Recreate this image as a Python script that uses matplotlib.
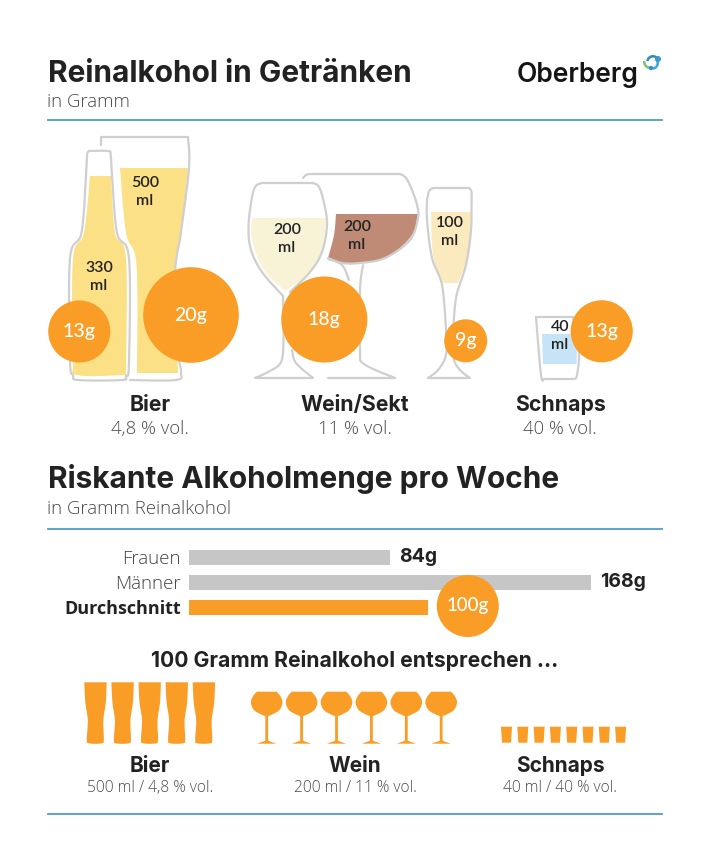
import numpy as np
import matplotlib
matplotlib.use("Agg")
import matplotlib.pyplot as plt
from matplotlib.patches import Circle, Polygon, Wedge

plt.rcParams['font.family'] = ['Lato', 'DejaVu Sans']
HEAD_FONT = ['Inter', 'DejaVu Sans']
LIGHT_FONT = ['Open Sans', 'DejaVu Sans']

# data
drink_grams = [13, 20, 18, 9, 13]
drink_ml = ["330\nml", "500\nml", "200\nml", "200\nml", "100\nml", "40\nml"]
drink_groups = ["Bier", "Wein/Sekt", "Schnaps"]
drink_vol = ["4,8 % vol.", "11 % vol.", "40 % vol."]

risk_labels = ["Frauen", "Männer", "Durchschnitt"]
risk_values = [84, 168, 100]

icon_names = ["Bier", "Wein", "Schnaps"]
icon_counts = [5, 6, 8]
icon_notes = ["500 ml / 4,8 % vol.", "200 ml / 11 % vol.", "40 ml / 40 % vol."]

ORANGE = "#F99D27"
GREY = "#C6C6C6"
OUTLINE = "#CFCFCF"
BLUE = "#4F9DC4"
DARK = "#222222"
SOFT = "#4A4A4A"
PX_PER_G = 2.39  # bars and bubbles share this scale


def catmull(p, n=10):
    p = np.array(p, dtype=float)
    if len(p) < 3:
        return p
    p = np.vstack([p[0], p, p[-1]])
    out = []
    for i in range(1, len(p) - 2):
        for t in np.linspace(0, 1, n, endpoint=False):
            a = 2 * p[i]
            b = p[i + 1] - p[i - 1]
            c = 2 * p[i - 1] - 5 * p[i] + 4 * p[i + 1] - p[i + 2]
            d = -p[i - 1] + 3 * p[i] - 3 * p[i + 1] + p[i + 2]
            out.append(0.5 * (a + b * t + c * t ** 2 + d * t ** 3))
    out.append(p[-2])
    return np.array(out)


def smooth(pts):
    # a repeated point is a hard corner, each run between corners is smoothed alone
    runs = [[pts[0]]]
    for q in pts[1:]:
        if q == runs[-1][-1]:
            runs.append([q])
        else:
            runs[-1].append(q)
    return np.vstack([catmull(r) for r in runs if len(r) > 1])


fig = plt.figure(figsize=(7.1, 8.61), dpi=100)
ax = fig.add_axes([0, 0, 1, 1])
ax.set_xlim(0, 710)
ax.set_ylim(861, 0)
ax.axis("off")


def fill(pts, color, z=2):
    ax.add_patch(Polygon(smooth(pts), closed=True, fc=color, ec="none", zorder=z))


def outline(pts, z=3, lw=1.6):
    s = smooth(pts)
    ax.plot(s[:, 0], s[:, 1], color=OUTLINE, lw=lw, zorder=z, solid_capstyle="round")


def bubble(x, y, grams):
    r = PX_PER_G * grams
    ax.add_patch(Circle((x, y), r, fc=ORANGE, ec="none", zorder=6))
    ax.text(x, y, "%dg" % grams, color="white", fontsize=14, fontweight="medium",
            ha="center", va="center", zorder=7)


# headers
ax.text(48, 82, "Reinalkohol in Getränken", fontsize=21.5, fontweight="bold", family=HEAD_FONT, color=DARK, va="baseline")
ax.text(47, 106.7, "in Gramm", fontsize=13.4, fontweight="light", family=LIGHT_FONT, color=SOFT, va="baseline")
ax.plot([48, 662], [120, 120], color=BLUE, lw=1.3)
ax.text(48, 487.5, "Riskante Alkoholmenge pro Woche", fontsize=21.5, fontweight="bold", family=HEAD_FONT, color=DARK, va="baseline")
ax.text(47, 514, "in Gramm Reinalkohol", fontsize=13.4, fontweight="light", family=LIGHT_FONT, color=SOFT, va="baseline")
ax.plot([48, 662], [529, 529], color=BLUE, lw=1.3)
ax.plot([48, 662], [814, 814], color=BLUE, lw=1.3)

# logo
ax.text(517, 82, "Oberberg", fontsize=19, fontweight="semibold", family=HEAD_FONT, color="#151515", va="baseline")
for (x, y, r, a, b, c) in [(650, 62, 7, 100, 190, "#7DC47A"), (653, 62, 7, 190, 320, "#2F8FC0"),
                           (652, 63, 7, 320, 80, "#44A7D8")]:
    ax.add_patch(Wedge((x, y), r, a, b, width=2.6, fc=c, ec="none"))
ax.add_patch(Circle((658, 59), 3, fc="#3B9BD0", ec="none"))
ax.add_patch(Circle((651, 68), 2.2, fc="#2F8FC0", ec="none"))

# beer glass, behind the bottle
fill([(120, 168), (188, 168), (188, 168), (181, 232), (175, 275), (178, 373), (178, 373), (137, 373),
      (137, 373), (136.5, 265), (126, 233), (120, 168)], "#FBE085")
outline([(101, 145), (101, 137), (101, 137), (188, 137), (188, 137), (189, 168), (181, 232), (175, 275),
         (178, 350), (181, 372), (176, 380), (130, 380)])

# bottle
fill([(90, 176), (111, 176), (111, 176), (115, 233), (126, 258), (126, 375), (126, 375), (77, 375),
      (73, 360), (73, 258), (84, 233), (90, 176)], "#FBE085")
outline([(89, 151), (108, 151), (110.7, 155), (112, 175), (117, 233), (129, 258), (129, 363), (126, 376),
         (122, 380), (78, 380), (73, 375), (70, 360), (70, 258), (81.5, 233), (86, 175), (87, 155), (89, 151)])

# white wine
fill([(252, 218), (326, 218), (326, 218), (322, 250), (306, 275), (285, 291), (285, 291), (264, 270),
      (252, 240), (252, 218)], "#F8F3D6")
outline([(283, 296), (262, 272), (251, 250), (248.5, 228), (251, 203), (255, 187), (262, 183), (262, 183), (313, 183),
         (313, 183), (319, 187), (324, 203), (327, 225), (322, 252), (310, 272), (290, 292)])
outline([(283, 296), (283.5, 340), (281, 362), (270, 371), (255, 378), (255, 378), (312, 378)])
outline([(292, 350), (296, 363), (313, 378)])

# red wine
fill([(336, 214), (418, 214), (418, 214), (412, 235), (390, 255), (362, 263), (342, 263), (328, 258),
      (328, 258), (334, 235), (336, 214)], "#C08B76")
outline([(303, 178), (306, 175), (310, 174), (310, 174), (400, 174), (400, 174), (406, 178), (412, 190), (417, 205),
         (418, 218), (410, 240), (385, 258), (360, 263), (342, 263), (328, 258)])
outline([(328, 259), (342, 265), (349, 280)])
outline([(363, 265), (360, 290), (360, 350), (364, 364), (395, 378), (395, 378), (328, 378)])

# sekt
fill([(431, 212), (472, 212), (472, 212), (470, 250), (458, 283), (458, 283), (442, 283), (442, 283),
      (433, 255), (431, 212)], "#FCEABF")
outline([(427, 200), (429, 191), (433, 188), (433, 188), (469, 188), (469, 188), (471.5, 192), (471.5, 205), (471, 230), (466, 265), (456, 298),
         (453, 340), (454, 360), (461, 371), (470, 378), (470, 378), (428, 378), (428, 378),
         (438, 370), (446, 355), (446, 330), (442, 285), (432, 258), (427, 220), (427, 200)])

# schnaps
ax.add_patch(Polygon([(542, 334), (578, 334), (576.5, 364), (543, 364)], fc="#C6E4F6", ec="none", zorder=2))
outline([(536, 317), (573, 317), (573, 317), (579, 350), (577, 375), (574, 379), (574, 379), (544, 379), (544, 379), (541, 375),
         (536, 317)])

# bubbles and fill labels
bubble_xy = [(79.3, 331.5), (191, 315), (324.3, 319.5), (465.7, 340.8), (601.7, 331.3)]
for (x, y), g in zip(bubble_xy, drink_grams):
    bubble(x, y, g)

ml_xy = [(99, 277), (145, 192), (287, 239), (357, 236), (450, 232), (560, 336)]
for (x, y), t in zip(ml_xy, drink_ml):
    ax.text(x, y, t, fontsize=11.5, fontweight="semibold", color=DARK, ha="center", va="center",
            linespacing=1.3, zorder=5)

for x, name, vol in zip([150, 355, 560], drink_groups, drink_vol):
    ax.text(x, 410.7, name, fontsize=15.3, fontweight="bold", family=HEAD_FONT, color=DARK, ha="center", va="baseline")
    ax.text(x, 434, vol, fontsize=13.3, fontweight="light", family=LIGHT_FONT, color=SOFT, ha="center", va="baseline")

# risk bars
bar_ax = fig.add_axes([189 / 710, 1 - 621 / 861, 402 / 710, 72 / 861], facecolor="none")
bar_ax.set_xlim(0, 168)
bar_ax.set_ylim(2.55, -0.33)
bar_colors = [GREY, GREY, ORANGE]
bar_ax.barh(range(3), risk_values, height=0.62, color=bar_colors)
for s in bar_ax.spines.values():
    s.set_visible(False)
bar_ax.tick_params(length=0, pad=6, labelbottom=False)
bar_ax.set_xticks([])
bar_ax.set_yticks(range(3))
bar_ax.set_yticklabels(risk_labels, fontsize=13.5, fontweight="light", family=LIGHT_FONT, color="#444444")
tl = bar_ax.get_yticklabels()[2]
tl.set_fontweight("bold")
tl.set_fontsize(13)
tl.set_color(DARK)
for i, v in enumerate(risk_values[:2]):
    bar_ax.annotate("%dg" % v, (v, i), xytext=(6.5, 0), textcoords="offset points", fontsize=14,
                    fontweight="bold", family=HEAD_FONT, color=DARK, va="center", annotation_clip=False)
ax.set_zorder(bar_ax.get_zorder() + 1)
ax.patch.set_visible(False)
x100 = 189 + risk_values[2] * 402 / 168 + 39.5
ax.add_patch(Circle((x100, 606), 31, fc=ORANGE, ec="none", zorder=6))
ax.text(x100, 606, "%dg" % risk_values[2], color="white", fontsize=13.5, fontweight="medium",
        ha="center", va="center", zorder=7)

ax.text(355, 667, "100 Gramm Reinalkohol entsprechen ...", fontsize=15.2, fontweight="bold", family=HEAD_FONT, color=DARK,
        ha="center", va="baseline")

# icons
beer_icon = [(0, 0), (22.4, 0), (22.4, 0), (21.5, 20), (19, 38), (19.5, 57), (17.5, 61), (4.5, 61),
             (2.5, 57), (3.5, 38), (1, 20), (0, 0)]
for i in range(icon_counts[0]):
    x0 = 84.3 + i * 27.1
    fill([(x0 + a, 682.3 + b) for a, b in beer_icon], ORANGE)

wine_bowl = [(-10, 0), (10, 0), (10, 0), (14, 5), (15.8, 11), (13, 18), (7, 22), (0, 24.5), (-7, 22),
             (-13, 18), (-15.8, 11), (-14, 5), (-10, 0)]
wine_stem = [(-1.4, 22), (1.4, 22), (1.4, 49), (9.5, 52), (-9.5, 52), (-1.4, 49)]
for i in range(icon_counts[1]):
    xc = 266.7 + i * 34.9
    fill([(xc + a, 691.7 + b) for a, b in wine_bowl], ORANGE)
    ax.add_patch(Polygon([(xc + a, 691.7 + b) for a, b in wine_stem], fc=ORANGE, ec="none", zorder=2))

for i in range(icon_counts[2]):
    x0 = 501 + i * 16.3
    ax.add_patch(Polygon([(x0, 726.7), (x0 + 11, 726.7), (x0 + 10, 742.7), (x0 + 1, 742.7)],
                         fc=ORANGE, ec="none", zorder=2))

for x, name, note in zip([150, 355, 560], icon_names, icon_notes):
    ax.text(x, 771.7, name, fontsize=15, fontweight="bold", family=HEAD_FONT, color=DARK, ha="center", va="baseline")
    ax.text(x, 792.3, note, fontsize=11.2, fontweight="light", family=LIGHT_FONT, color=SOFT, ha="center", va="baseline")

fig.savefig("out.png", dpi=100)
